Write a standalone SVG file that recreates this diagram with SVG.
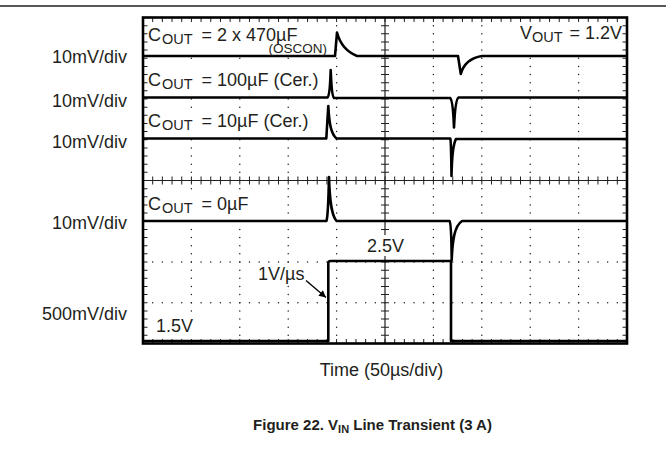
<svg xmlns="http://www.w3.org/2000/svg" width="666" height="459" viewBox="0 0 666 459">
<defs>
<style>
.t{font-family:"Liberation Sans",Arial,Helvetica,sans-serif;font-size:18px;fill:#231f20}
.sub{font-size:14.5px}
.sm{font-size:13.5px}
.ttl{font-family:"Liberation Sans",Arial,Helvetica,sans-serif;font-size:15px;font-weight:bold;fill:#231f20}
.hd{fill:none;stroke:#231f20;stroke-width:1.5;stroke-linecap:round;stroke-dasharray:0 9.68}
.vd{fill:none;stroke:#231f20;stroke-width:1.5;stroke-linecap:round;stroke-dasharray:0 8.15}
.tkh{fill:none;stroke:#231f20;stroke-width:1;stroke-dasharray:1 8.68;stroke-dashoffset:0.5}
.tkv{fill:none;stroke:#231f20;stroke-width:1;stroke-dasharray:1 7.15;stroke-dashoffset:0.5}
.box{fill:#fff}
.tr{fill:none;stroke:#000;stroke-width:2.6;stroke-linejoin:round;stroke-linecap:butt}
</style>
<marker id="ah" viewBox="0 0 10 10" refX="10" refY="5" markerWidth="9" markerHeight="7" markerUnits="userSpaceOnUse" orient="auto">
<path d="M0,0 L10,5 L0,10 Z" fill="#000"/>
</marker>
</defs>
<rect width="666" height="459" fill="#fff"/>
<line x1="0" y1="6" x2="666" y2="6" stroke="#231f20" stroke-width="1.5"/>

<g id="grid">
<path class="hd" d="M143,262 H627 M143,302.75 H627"/>
<path class="vd" d="M191.4,17.5 V343.5 M239.8,17.5 V343.5 M288.2,17.5 V343.5 M336.6,17.5 V343.5 M433.4,17.5 V343.5 M481.8,17.5 V343.5 M530.2,17.5 V343.5 M578.6,17.5 V343.5"/>
<line x1="385" y1="17.5" x2="385" y2="343.5" stroke="#231f20" stroke-width="1.2"/>
<line x1="143" y1="180.5" x2="627" y2="180.5" stroke="#231f20" stroke-width="1.2"/>
<path class="tkv" style="stroke-width:8" d="M385,17.5 V343.5"/>
<path class="tkh" style="stroke-width:8" d="M143,180.5 H627"/>
</g>

<g id="label-boxes">
<rect class="box" x="146" y="20" width="186" height="35"/>
<rect class="box" x="515" y="20" width="109" height="34"/>
<rect class="box" x="146" y="64" width="178" height="32"/>
<rect class="box" x="146" y="108" width="168" height="29"/>
<rect class="box" x="146" y="190" width="100" height="29"/>
<rect class="box" x="256" y="265" width="49" height="20"/>
<rect class="box" x="365" y="235" width="40" height="21"/>
<rect class="box" x="154" y="314" width="41" height="22"/>
</g>

<g id="frame">
<path class="tkh" style="stroke-width:4.5" d="M143,19.75 H627 M143,341.25 H627"/>
<path class="tkv" style="stroke-width:4.5" d="M145.25,17.5 V343.5 M624.75,17.5 V343.5"/>
<rect x="143" y="17.5" width="484" height="326" fill="none" stroke="#000" stroke-width="2.6"/>
</g>

<g id="traces">
<path id="trace-470uF" class="tr" d="M143,56 H335 L337,32.5 C340,44 346,51.5 357,56 H458 L460.8,74 C463.5,64 470,58 482,56 H627"/>
<path id="trace-100uF" class="tr" d="M143,97.5 H327.5 C329.5,96 330.2,86 330.7,70 C331.3,86 332,96.5 334,98 H450 C452,99 453.3,110 454,127.5 C454.8,110 456,99 458.5,97.5 H627"/>
<path id="trace-10uF" class="tr" d="M143,138.5 H326.3 L328.3,106 C329.3,124 331,134 336.5,138.5 H450.3 C451,140 451.3,160 451.5,176 C451.8,160 452.5,145 456,139 H627"/>
<path id="trace-0uF" class="tr" d="M143,221 H326.5 C328,216 328.6,195 329,177 C329.5,195 330.5,214 336.5,221 H449.5 C451,222.5 451.5,240 451.7,260 C452.5,240 454.5,226 462,221 H627"/>
<path id="trace-vin" class="tr" d="M143,341 H328.3 V262.5 Q328.5,261 330.5,261 H451 V341 H627"/>
</g>

<g id="connectors">
<line x1="306" y1="280.5" x2="326" y2="297.5" stroke="#000" stroke-width="1.4" marker-end="url(#ah)"/>
</g>

<g id="scale-labels">
<text class="t" x="127" y="62.5" text-anchor="end">10mV/div</text>
<text class="t" x="127" y="107.3" text-anchor="end">10mV/div</text>
<text class="t" x="127" y="148" text-anchor="end">10mV/div</text>
<text class="t" x="127" y="229.3" text-anchor="end">10mV/div</text>
<text class="t" x="127" y="320" text-anchor="end">500mV/div</text>
</g>

<g id="label-470uF">
<text class="t" x="148" y="40.7">C<tspan class="sub" x="162" dy="3">OUT</tspan><tspan x="196.5" dy="-3"> = 2 x 470µF</tspan></text>
<text class="t sm" x="327" y="52.5" text-anchor="end">(OSCON)</text>
</g>
<g id="label-vout">
<text class="t" x="520" y="38.5">V<tspan class="sub" x="532" dy="3">OUT</tspan><tspan x="564.5" dy="-3"> = 1.2V</tspan></text>
</g>
<g id="label-100uF">
<text class="t" x="148" y="86">C<tspan class="sub" x="162" dy="3">OUT</tspan><tspan x="196.5" dy="-3"> = 100µF (Cer.)</tspan></text>
</g>
<g id="label-10uF">
<text class="t" x="148" y="126.7">C<tspan class="sub" x="162" dy="3">OUT</tspan><tspan x="196.5" dy="-3"> = 10µF (Cer.)</tspan></text>
</g>
<g id="label-0uF">
<text class="t" x="148" y="209.5">C<tspan class="sub" x="162" dy="3">OUT</tspan><tspan x="196.5" dy="-3"> = 0µF</tspan></text>
</g>
<g id="label-slew">
<text class="t" x="258" y="279.5">1V/µs</text>
</g>
<g id="label-25">
<text class="t" x="367" y="251.7">2.5V</text>
</g>
<g id="label-15">
<text class="t" x="156" y="331.5">1.5V</text>
</g>

<g id="axis-title">
<text class="t" x="381.5" y="375.5" text-anchor="middle">Time (50µs/div)</text>
</g>
<g id="caption">
<text class="ttl" x="372.5" y="429.5" text-anchor="middle">Figure 22. V<tspan font-size="11" dy="3">IN</tspan><tspan dy="-3"> Line Transient (3 A)</tspan></text>
</g>
</svg>
